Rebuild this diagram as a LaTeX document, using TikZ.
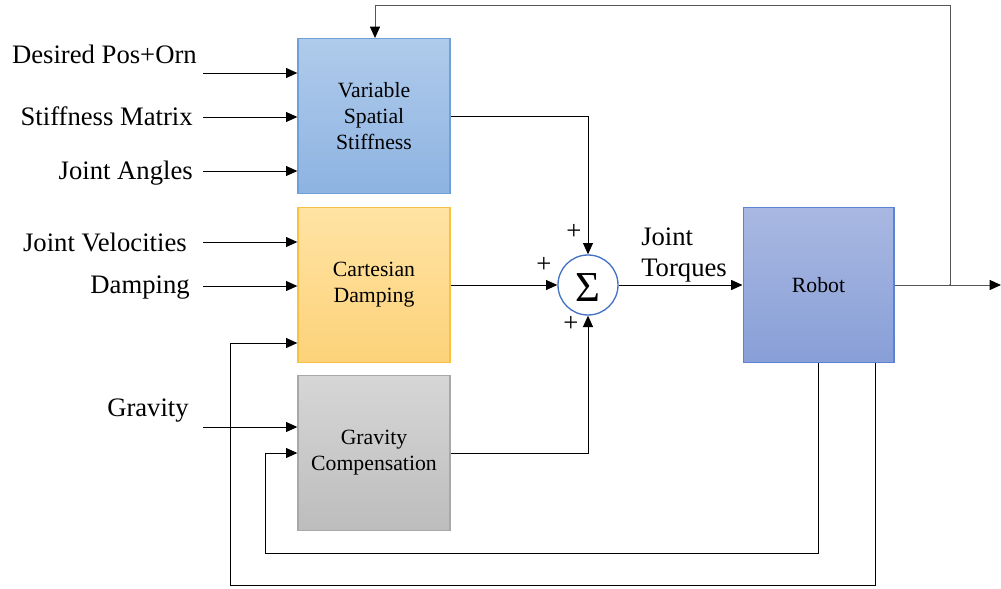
\documentclass[tikz,border=0pt]{standalone}
\usepackage{fontspec}
\setmainfont{Liberation Serif}
\usetikzlibrary{arrows.meta,calc}
\definecolor{vssTop}{HTML}{B0CBEB}
\definecolor{vssBot}{HTML}{8DB3E2}
\definecolor{vssLine}{HTML}{6FA0D8}
\definecolor{cdTop}{HTML}{FFE3A3}
\definecolor{cdBot}{HTML}{FDD27A}
\definecolor{cdLine}{HTML}{F7C243}
\definecolor{gcTop}{HTML}{D6D6D6}
\definecolor{gcBot}{HTML}{BDBDBD}
\definecolor{gcLine}{HTML}{A8A8A8}
\definecolor{rbTop}{HTML}{A9B8E2}
\definecolor{rbBot}{HTML}{889FD7}
\definecolor{rbLine}{HTML}{5D82D3}
\definecolor{sumLine}{HTML}{4472C4}
\definecolor{wire}{HTML}{555555}
\tikzset{
  block/.style={rectangle, minimum width=114pt, minimum height=116pt, line width=1pt,
    align=center, font=\fontsize{16.3}{19.5}\selectfont, inner sep=0pt},
  lbl/.style={font=\fontsize{20}{23}\selectfont, inner sep=0pt},
  arr/.style={-{Triangle[length=8.5pt,width=7.5pt]}, line width=0.75pt},
  wirearr/.style={-{Triangle[length=8.5pt,width=7.5pt,black]}, line width=0.75pt, draw=wire},
  plus/.style={font=\fontsize{20}{20}\selectfont, inner sep=0pt}
}
\begin{document}
\begin{tikzpicture}[x=0.75pt,y=-0.75pt]
\useasboundingbox (0,0) rectangle (1001,589);

% blocks
\node[block, top color=vssTop, bottom color=vssBot, draw=vssLine] (vss) at (374,116)
  {Variable\\Spatial\\Stiffness};
\node[block, top color=cdTop, bottom color=cdBot, draw=cdLine] (cd) at (374,285)
  {Cartesian\\Damping};
\node[block, top color=gcTop, bottom color=gcBot, draw=gcLine] (gc) at (374,453)
  {Gravity\\Compensation};
\node[block, minimum width=113pt, top color=rbTop, bottom color=rbBot, draw=rbLine] (robot) at (818.5,285)
  {Robot};
\node[circle, draw=sumLine, line width=1pt, minimum size=45pt, inner sep=0pt] (sum) at (588,285) {};
\node[font=\fontsize{32}{32}\selectfont, inner sep=0pt] (sig) at (588,288) {Σ};

% input labels
\node[lbl, anchor=east] (tdpo) at (197,54) {Desired Pos+Orn};
\node[lbl, anchor=east] (tsm) at (193,116) {Stiffness Matrix};
\node[lbl, anchor=east] (tja) at (193,173) {Joint Angles};
\node[lbl, anchor=east] (tjv) at (187,242) {Joint Velocities};
\node[lbl, anchor=east] (tdmp) at (190,288) {Damping};
\node[lbl, anchor=east] (tgrv) at (189,411) {Gravity};
\node[lbl, anchor=west, align=left, font=\fontsize{20}{23.5}\selectfont] (tjt) at (641,255) {Joint\\Torques};

% plus signs
\node[plus] (p1) at (574,232) {+};
\node[plus] (p2) at (544,265) {+};
\node[plus] (p3) at (571,324) {+};

% input wires
\coordinate (i1) at (203,73);
\coordinate (i2) at (203,117);
\coordinate (i3) at (203,171);
\coordinate (i4) at (203,242);
\coordinate (i5) at (203,286);
\coordinate (i6) at (203,427);
\foreach \c/\b in {i1/vss,i2/vss,i3/vss,i4/cd,i5/cd,i6/gc}
  \draw[arr] (\c) -- (\c -| \b.west);

% into the summing junction
\draw[arr] (vss.east) -| (sum.north);
\draw[arr] (cd.east) -- (sum.west);
\draw[arr] (gc.east) -| (sum.south);
\draw[arr] (sum.east) -- (robot.west);

% robot output and feedback
\coordinate (out) at (1001,285);
\coordinate (br) at (950,285);
\coordinate (tp) at (375,5);
\draw[wirearr] (robot.east) -- (out);
\fill[wire] (br) circle (1);
\draw[wirearr] (br) |- (tp) -- (tp |- vss.north);

\coordinate (l1) at (265,553);
\draw[arr] (robot.south) |- (l1) |- (gc.west);

\coordinate (r2x) at (875,0);
\coordinate (l2) at (230,585);
\coordinate (c2) at (0,343);
\draw[arr] (robot.south -| r2x) |- (l2) |- (c2 -| cd.west);
\end{tikzpicture}
\end{document}
